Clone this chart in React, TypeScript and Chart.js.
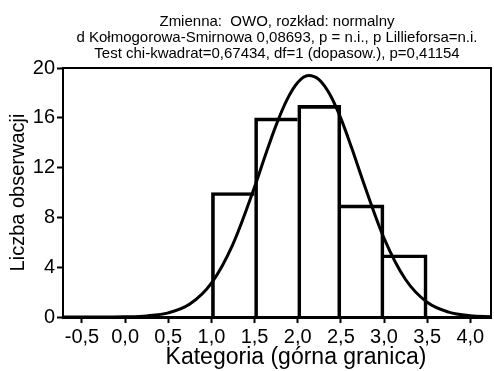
import { useEffect, useRef } from 'react';
import { Chart, registerables } from 'chart.js';

Chart.register(...registerables);

// ---- data ----
const titleLines = [
  'Zmienna:  OWO, rozkład: normalny',
  'd Kołmogorowa-Smirnowa 0,08693, p = n.i., p Lillieforsa=n.i.',
  'Test chi-kwadrat=0,67434, df=1 (dopasow.), p=0,41154',
];
const xAxisTitle = 'Kategoria (górna granica)';
const yAxisTitle = 'Liczba obserwacji';

// histogram bins (upper bounds) and observed counts
const binUpper = [1.5, 2.0, 2.5, 3.0, 3.5];
const binWidth = 0.5;
const counts = [10, 16, 17, 9, 5];

// fitted normal curve
const curveX = [-0.75, -0.5, -0.25, 0, 0.25, 0.5, 0.75, 1.0, 1.25, 1.5, 1.625, 1.75, 1.875, 2.0, 2.125, 2.25, 2.375, 2.5, 2.625, 2.75, 3.0, 3.25, 3.5, 3.75, 4.0, 4.25];
const curveY = [0, 0, 0.003, 0.02, 0.09, 0.33, 1.04, 2.72, 5.86, 10.44, 12.99, 15.41, 17.44, 18.83, 19.39, 19.05, 17.85, 15.95, 13.59, 11.05, 6.34, 3.01, 1.18, 0.39, 0.1, 0.02];

const xTicks = [-0.5, 0, 0.5, 1.0, 1.5, 2.0, 2.5, 3.0, 3.5, 4.0];
const yTicks = [0, 4, 8, 12, 16, 20];
const xMin = -0.72;
const xMax = 4.24;
const yMin = 0;
const yMax = 20;

const FONT = "'Liberation Sans', Arial, sans-serif";

const framePlugin = {
  id: 'frame',
  afterDraw(chart: any) {
    const { ctx, chartArea } = chart;
    const { left, top, right, bottom } = chartArea;
    ctx.save();
    ctx.strokeStyle = '#000';
    ctx.lineWidth = 2;
    ctx.strokeRect(left, top, right - left, bottom - top);
    // x-axis title, placed as in the reference (slightly right of centre)
    ctx.fillStyle = '#000';
    ctx.font = `23px ${FONT}`;
    ctx.textAlign = 'center';
    ctx.textBaseline = 'alphabetic';
    ctx.fillText(xAxisTitle, (left + right) / 2 + 19, bottom + 47);
    ctx.restore();
  },
};

export default function App() {
  const ref = useRef<HTMLCanvasElement>(null);

  useEffect(() => {
    if (!ref.current) return;
    const n = counts.length;
    const chart = new Chart(ref.current, {
      type: 'bar',
      data: {
        datasets: [
          {
            type: 'line',
            data: curveX.map((x, i) => ({ x, y: curveY[i] })),
            borderColor: '#000',
            borderWidth: 3,
            pointRadius: 0,
            fill: false,
            cubicInterpolationMode: 'monotone',
            order: 1,
          } as any,
          {
            type: 'bar',
            data: binUpper.map((u, i) => ({ x: u - binWidth / 2, y: counts[i] })),
            backgroundColor: 'rgba(0,0,0,0)',
            borderColor: '#000',
            borderSkipped: false,
            borderWidth: (c: any) => {
              const i = c.dataIndex;
              const left = i === 0 ? 3 : counts[i] > counts[i - 1] ? 3 : 0;
              const right = i === n - 1 ? 3 : counts[i] >= counts[i + 1] ? 3 : 0;
              return { top: 3, left, right, bottom: 0 };
            },
            barPercentage: 1,
            categoryPercentage: 1,
            order: 2,
          } as any,
        ],
      },
      options: {
        responsive: false,
        animation: false,
        color: '#000',
        layout: { padding: { left: 0, right: 3, top: 0, bottom: 0 } },
        plugins: {
          legend: { display: false },
          tooltip: { enabled: false },
          title: {
            display: true,
            text: titleLines,
            color: '#000',
            fullSize: false,
            font: { family: FONT, size: 15, weight: 'normal', lineHeight: '16px' },
            padding: { top: 14, bottom: 6 },
          },
        },
        scales: {
          x: {
            type: 'linear',
            min: xMin,
            max: xMax,
            offset: false,
            afterBuildTicks: (s: any) => {
              s.ticks = xTicks.map((v) => ({ value: v }));
            },
            afterFit: (s: any) => {
              s.height = 54;
            },
            grid: {
              display: true,
              drawOnChartArea: false,
              drawTicks: true,
              offset: false,
              tickLength: 6,
              tickWidth: 2,
              tickColor: '#000',
            },
            border: { display: true, color: '#000', width: 3 },
            ticks: {
              color: '#000',
              font: { family: FONT, size: 20 },
              padding: 2,
              maxRotation: 0,
              autoSkip: false,
              callback: (v: any) => Number(v).toFixed(1).replace('.', ','),
            },
            title: { display: false, text: xAxisTitle },
          },
          y: {
            type: 'linear',
            min: yMin,
            max: yMax,
            afterBuildTicks: (s: any) => {
              s.ticks = yTicks.map((v) => ({ value: v }));
            },
            afterFit: (s: any) => {
              s.width = 63;
            },
            grid: {
              display: true,
              drawOnChartArea: false,
              drawTicks: true,
              tickLength: 6,
              tickWidth: 2,
              tickColor: '#000',
            },
            border: { display: true, color: '#000', width: 2 },
            ticks: {
              color: '#000',
              font: { family: FONT, size: 20 },
              padding: 2,
              callback: (v: any) => String(v),
            },
            title: {
              display: true,
              text: yAxisTitle,
              color: '#000',
              font: { family: FONT, size: 20 },
              padding: { top: 6, bottom: 0 },
            },
          },
        },
      },
      plugins: [framePlugin],
    });
    return () => chart.destroy();
  }, []);

  return (
    <div style={{ position: 'absolute', left: 0, top: 0, width: 494, height: 371, background: '#fff' }}>
      <canvas ref={ref} width={494} height={371} style={{ display: 'block', width: 494, height: 371 }} />
    </div>
  );
}
